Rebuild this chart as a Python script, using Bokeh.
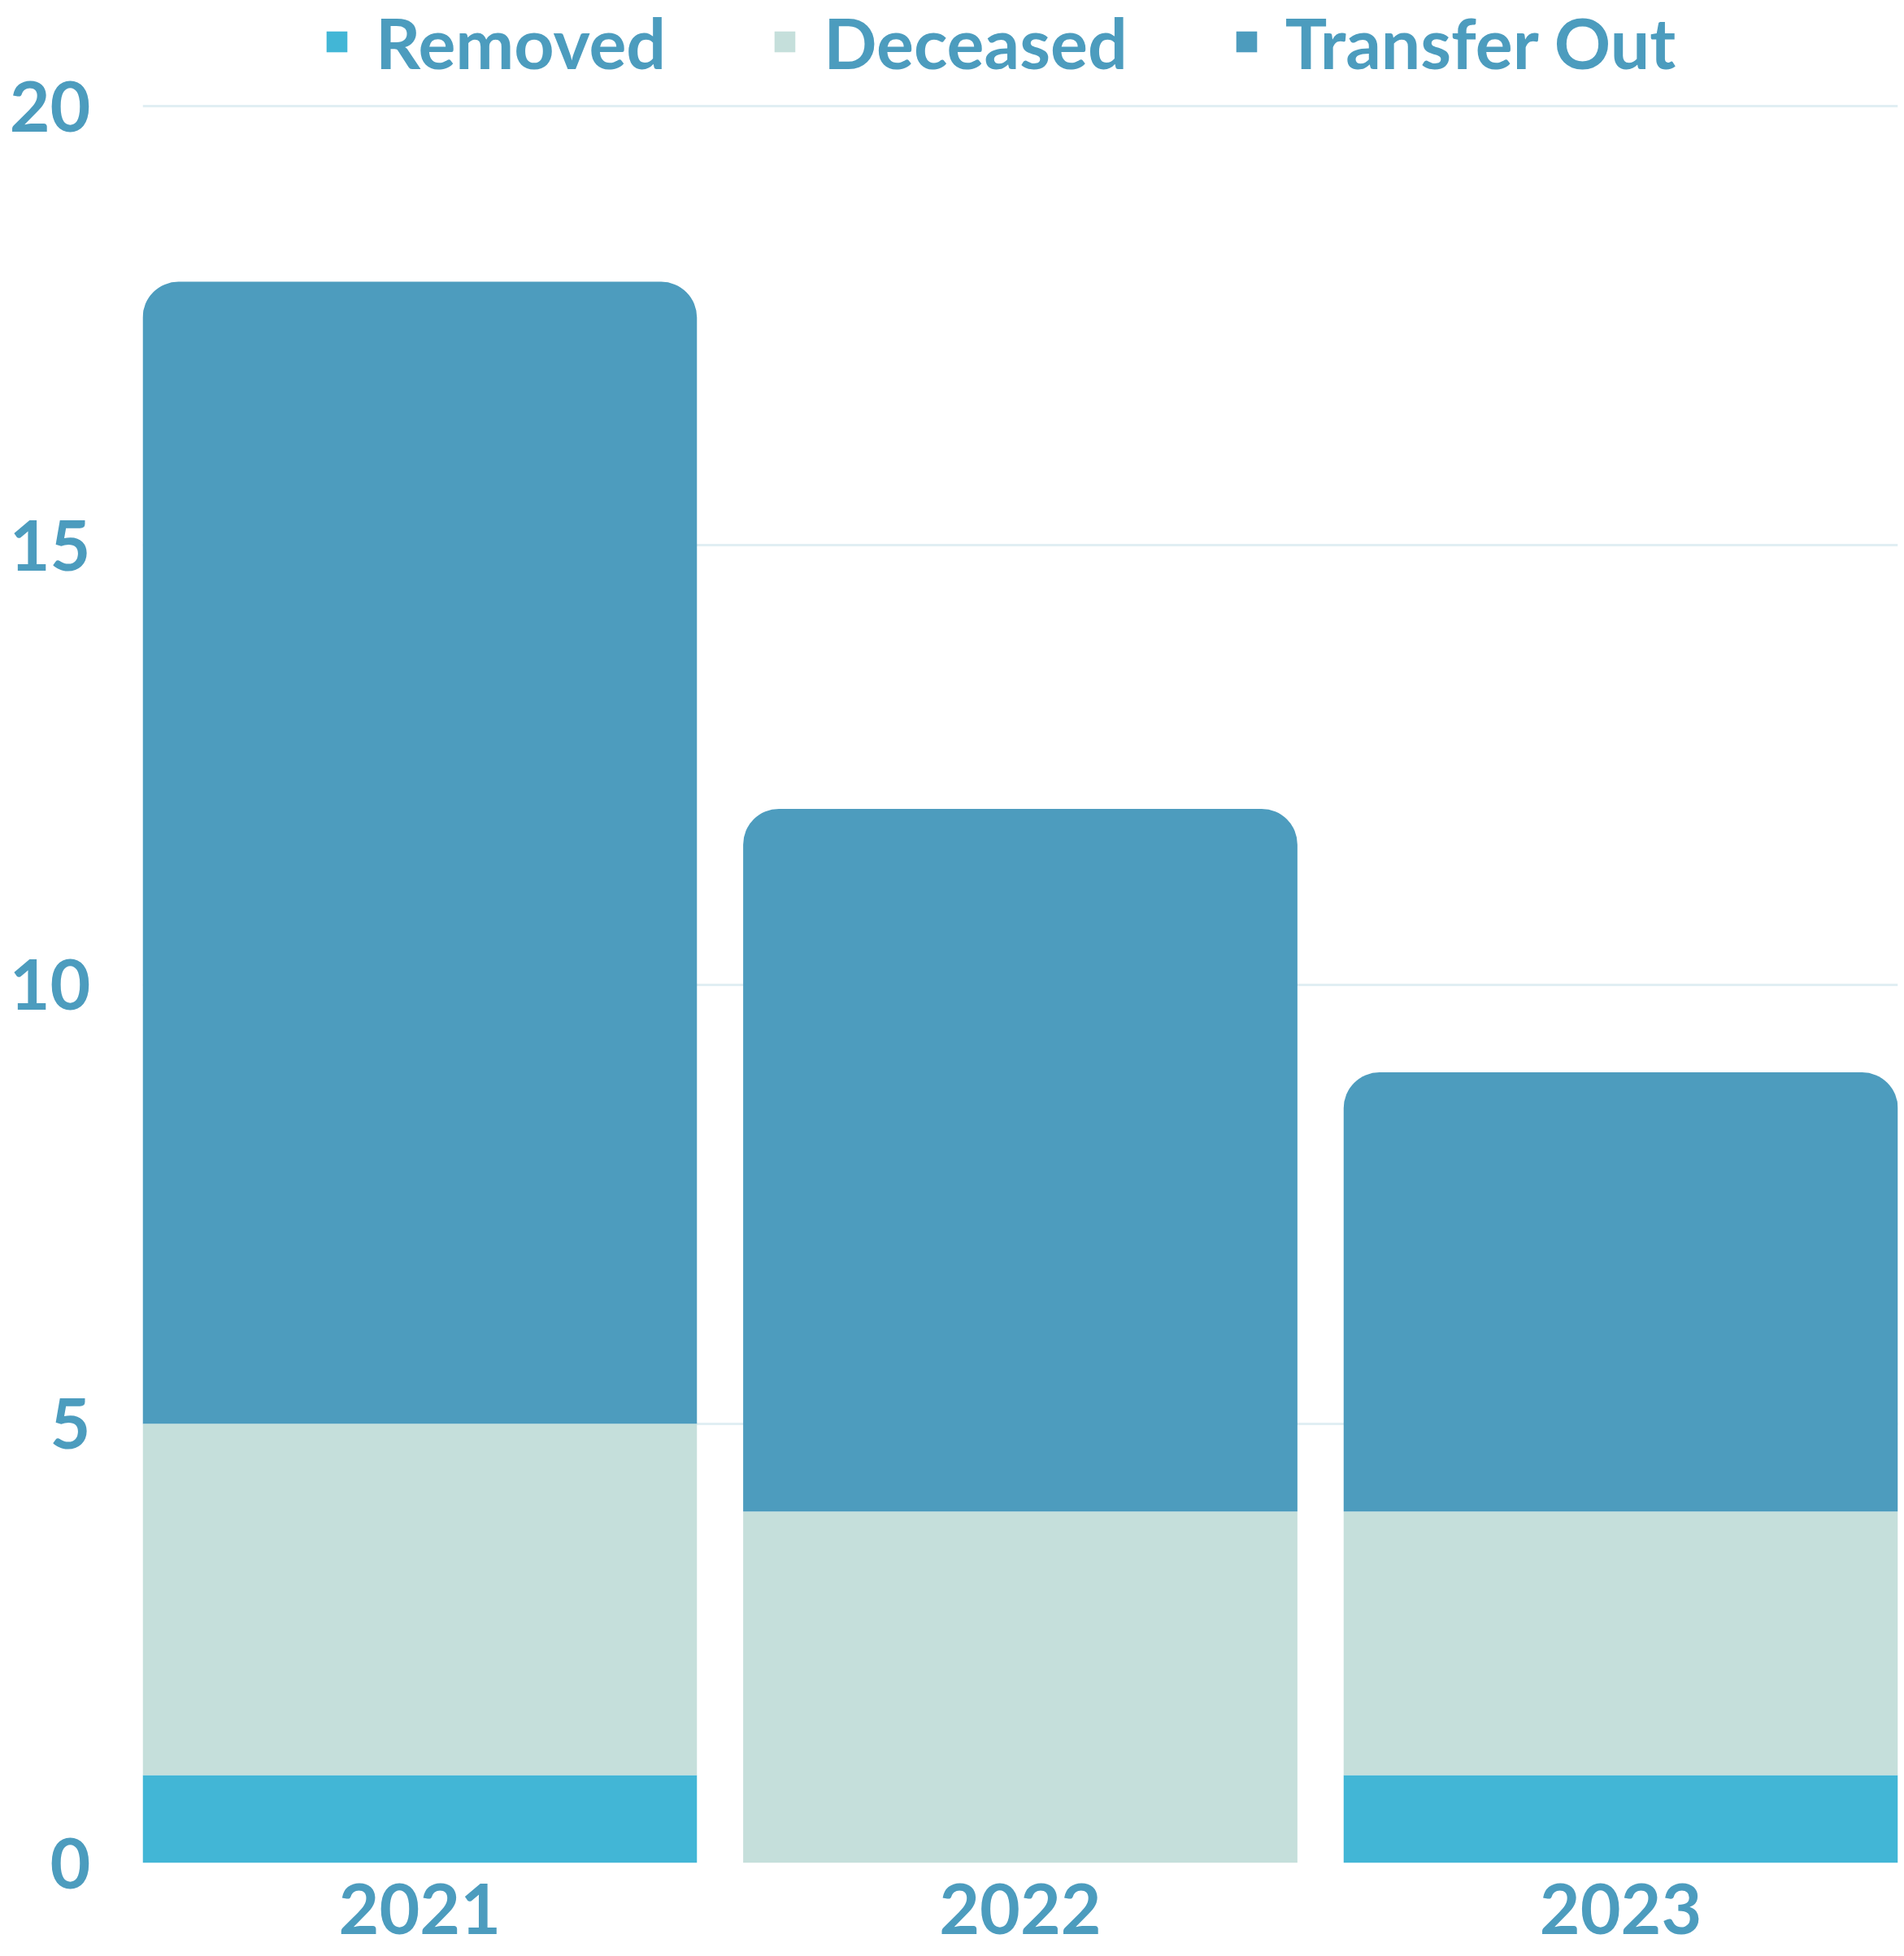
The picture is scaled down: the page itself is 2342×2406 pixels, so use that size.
from bokeh.plotting import figure
from bokeh.models import Range1d, FixedTicker, Legend, LegendItem, ColumnDataSource
from bokeh.embed import file_html
from bokeh.resources import INLINE
from bokeh.transform import stack

years = ["2021", "2022", "2023"]
removed = [1, 0, 1]
deceased = [4, 4, 3]
transfer_out = [13, 8, 5]
series = ["Removed", "Deceased", "Transfer Out"]
colors = ["#42B6D6", "#C5DFDB", "#4D9CBE"]
y_ticks = [0, 5, 10, 15, 20]

TEXT = "#4C9CBE"
FONT = "Lato"

idx = list(range(len(years)))
source = ColumnDataSource(dict(x=idx, Removed=removed, Deceased=deceased, **{"Transfer Out": transfer_out}))

W, H = 2342, 2406
left, right, top, bottom = 175, 8, 0, 115
frame_h = H - top - bottom
px_per_unit = (frame_h - 130) / 20.0

bar_w = 0.923
p = figure(width=W, height=H, output_backend="svg", toolbar_location=None,
           x_range=Range1d(-bar_w / 2, len(years) - 1 + bar_w / 2),
           y_range=Range1d(0, 20 + 130 / px_per_unit))
p.min_border_left = left
p.min_border_right = right
p.min_border_top = top
p.min_border_bottom = bottom
p.outline_line_color = None
p.background_fill_color = "white"
p.border_fill_color = "white"

renderers = []
for i, name in enumerate(series):
    below = series[:i]
    radius = (44, 44, 0, 0) if name == "Transfer Out" else 0
    r = p.vbar(x="x", width=bar_w,
               bottom=stack(*below) if below else 0,
               top=stack(*series[: i + 1]),
               source=source, fill_color=colors[i], line_color=None,
               border_radius=radius)
    renderers.append(r)

p.yaxis.ticker = FixedTicker(ticks=y_ticks)
p.xaxis.ticker = FixedTicker(ticks=idx)
p.xaxis.major_label_overrides = {i: y for i, y in enumerate(years)}
for ax in (p.xaxis[0], p.yaxis[0]):
    ax.axis_line_color = None
    ax.major_tick_line_color = None
    ax.minor_tick_line_color = None
    ax.major_tick_out = 0
    ax.major_tick_in = 0
    ax.major_label_text_font = FONT
    ax.major_label_text_font_style = "bold"
    ax.major_label_text_font_size = "86px"
    ax.major_label_text_color = TEXT
p.yaxis.major_label_standoff = 64
p.xaxis.major_label_standoff = 25

p.xgrid.grid_line_color = None
p.ygrid.ticker = FixedTicker(ticks=y_ticks)
p.ygrid.grid_line_color = "#E1EEF3"
p.ygrid.grid_line_width = 3

legend_h = 110
legend = Legend(items=[LegendItem(label=s, renderers=[r]) for s, r in zip(series, renderers)],
                orientation="horizontal", location=(223, frame_h - legend_h + 4))
legend.label_text_font = FONT
legend.label_text_font_style = "bold"
legend.label_text_font_size = "86px"
legend.label_text_color = TEXT
legend.label_height = legend_h
legend.glyph_width = 32
legend.glyph_height = 32
legend.label_standoff = 32
legend.spacing = 130
legend.padding = 0
legend.margin = 0
legend.border_line_color = None
legend.background_fill_alpha = 0
p.add_layout(legend)

open("out.html", "w").write(file_html(p, INLINE))
